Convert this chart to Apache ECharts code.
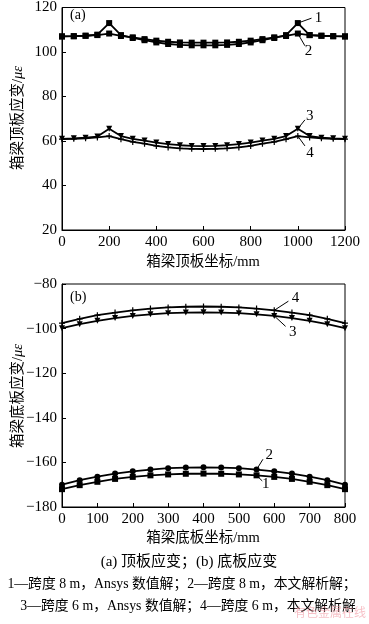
<!DOCTYPE html>
<html><head><meta charset="utf-8">
<script src="https://cdn.jsdelivr.net/npm/echarts@6/dist/echarts.min.js"></script>
<style>html,body{margin:0;padding:0;background:#fff}#c{width:369px;height:624px}</style>
</head><body><div id="c"></div>
<script>
// Panel (a): top plate, x = 0..1200 step 50
const xTop = [0,50,100,150,200,250,300,350,400,450,500,550,600,650,700,750,800,850,900,950,1000,1050,1100,1150,1200];
const top1 = [107,107.1,107.3,107.8,113,107.6,106.3,105.3,104.3,103.6,103.2,103.0,103.0,103.0,103.2,103.6,104.3,105.3,106.3,107.6,113,107.6,107.3,107.1,107];
const top2 = [107,107.1,107.3,107.6,108.3,107.2,106.6,105.8,105.1,104.6,104.3,104.2,104.2,104.2,104.3,104.6,105.1,105.8,106.6,107.2,108.3,107.6,107.3,107.1,107];
const top3 = [61,61.2,61.5,62,65.5,62.2,61,60.2,59.3,58.6,58.1,57.8,57.7,57.8,58.1,58.6,59.3,60.2,61,62.2,65.5,62.2,61.5,61.2,61];
const top4 = [60.8,61,61.2,61.6,62.2,60.8,59.6,58.8,57.8,57.1,56.7,56.5,56.4,56.5,56.7,57.1,57.8,58.8,59.6,60.8,62.2,61.6,61.2,61,60.8];
// Panel (b): bottom plate, x = 0..800 step 50
const xBot = [0,50,100,150,200,250,300,350,400,450,500,550,600,650,700,750,800];
const bot1 = [-172,-170.2,-168.7,-167.4,-166.5,-165.8,-165.4,-165.1,-165,-165.1,-165.4,-165.8,-166.5,-167.4,-168.7,-170.2,-172];
const bot2 = [-170,-168,-166.4,-165,-164,-163.2,-162.6,-162.3,-162.2,-162.3,-162.6,-163.2,-164,-165,-166.4,-168,-170];
const bot3 = [-99.8,-98,-96.5,-95.3,-94.3,-93.6,-93.1,-92.8,-92.7,-92.8,-93.1,-93.6,-94.3,-95.3,-96.5,-98,-99.8];
const bot4 = [-97.5,-95.6,-94,-92.8,-91.8,-91,-90.5,-90.2,-90.1,-90.2,-90.5,-91,-91.8,-92.8,-94,-95.6,-97.5];
// tick settings
const xTopTicks = {min:0,max:1200,interval:200};
const xBotTicks = {min:0,max:800,interval:100};
const yTopTicks = {min:20,max:120,interval:20};
const yBotTicks = {min:-180,max:-80,interval:20};
// annotation labels: [panel, label, fromX, fromY, toX, toY, textX, textY]
const annots = [
  [0,'1',1000,113,1058,115.2,1088,115.3],
  [0,'2',1000,108.3,1030,102.8,1045,100.6],
  [0,'3',1000,65.5,1030,69.5,1050,71.2],
  [0,'4',1000,62.2,1030,57.8,1052,54.4],
  [1,'4',600,-91.8,640,-87.7,660,-86.4],
  [1,'3',600,-94.3,632,-99,652,-101.5],
  [1,'2',550,-163.2,568,-158.6,586,-156.8],
  [1,'1',550,-165.8,566,-168.3,576,-169.5]
];

const serif = 'Liberation Serif, Times New Roman, serif';
const cjk = 'Liberation Serif, Noto Sans CJK SC, serif';
const plusPath = 'path://M4,0H6V4H10V6H6V10H4V6H0V4H4Z';

function mk(data, xs, xi, symbol, size, rot){
  return {type:'line', xAxisIndex:xi, yAxisIndex:xi, data: xs.map((x,i)=>[x,data[i]]),
    symbol, symbolSize:size, symbolRotate:rot||0, showSymbol:true,
    lineStyle:{color:'#000',width:1.8}, itemStyle:{color:'#000'}, animation:false, z:3};
}
const fmt = v => String(v).replace('-', '\u2212');
function ax(t, gi){
  return {type:'value', gridIndex:gi, min:t.min, max:t.max, interval:t.interval,
    axisLine:{show:true,lineStyle:{color:'#000',width:1}}, axisTick:{show:true,inside:true,length:4,lineStyle:{color:'#000'}},
    axisLabel:{color:'#000',fontFamily:serif,fontSize:15,margin:5,formatter:fmt}, splitLine:{show:false}};
}

const chart = echarts.init(document.getElementById('c'), null, {renderer:'canvas'});
const grids = [
  {left:62, top:5, width:283, height:225, show:true, borderColor:'#000', borderWidth:1, backgroundColor:'transparent'},
  {left:62, top:284, width:283, height:223, show:true, borderColor:'#000', borderWidth:1, backgroundColor:'transparent'}
];
const baseGraphic = [
  {type:'text', left:70, top:8, style:{text:'(a)', font:'14px '+serif, fill:'#000'}},
  {type:'text', left:70, top:290, style:{text:'(b)', font:'14px '+serif, fill:'#000'}},
  {type:'text', x:203, y:262, style:{text:'箱梁顶板坐标/mm', font:'14.5px '+cjk, fill:'#000', align:'center', verticalAlign:'middle'}},
  {type:'text', x:203, y:538, style:{text:'箱梁底板坐标/mm', font:'14.5px '+cjk, fill:'#000', align:'center', verticalAlign:'middle'}},
  {type:'text', x:18, y:118, rotation:Math.PI/2, style:{rich:{a:{font:'14.5px '+cjk,fill:'#000'},b:{font:'italic 14.5px '+serif,fill:'#000'}}, text:'{a|箱梁顶板应变/}{b|με}', align:'center', verticalAlign:'middle'}},
  {type:'text', x:18, y:396, rotation:Math.PI/2, style:{rich:{a:{font:'14.5px '+cjk,fill:'#000'},b:{font:'italic 14.5px '+serif,fill:'#000'}}, text:'{a|箱梁底板应变/}{b|με}', align:'center', verticalAlign:'middle'}},
  {type:'text', x:189, y:562, style:{text:'(a) 顶板应变；(b) 底板应变', font:'15px '+cjk, fill:'#000', align:'center', verticalAlign:'middle'}},
  {type:'text', x:182, y:584, style:{text:'1—跨度 8 m，Ansys 数值解；2—跨度 8 m，本文解析解；', font:'13.8px '+cjk, fill:'#000', align:'center', verticalAlign:'middle'}},
  {type:'text', x:188, y:606, style:{text:'3—跨度 6 m，Ansys 数值解；4—跨度 6 m，本文解析解', font:'13.8px '+cjk, fill:'#000', align:'center', verticalAlign:'middle'}},
  {type:'text', x:330, y:612, style:{text:'有色金属在线', font:'12px Noto Sans CJK SC', fill:'rgba(240,150,160,0.6)', align:'center', verticalAlign:'middle'}, z:10}
];
chart.setOption({
  animation:false,
  grid: grids,
  xAxis:[ax(xTopTicks,0), ax(xBotTicks,1)],
  yAxis:[ax(yTopTicks,0), ax(yBotTicks,1)],
  series:[
    mk(top1,xTop,0,'rect',6), mk(top2,xTop,0,'rect',6),
    mk(top3,xTop,0,'triangle',6,180), mk(top4,xTop,0,plusPath,6),
    mk(bot1,xBot,1,'rect',6), mk(bot2,xBot,1,'circle',6),
    mk(bot3,xBot,1,'triangle',6,180), mk(bot4,xBot,1,plusPath,6)
  ],
  graphic: baseGraphic
});
const extra = [];
annots.forEach(a=>{
  const fi = {gridIndex:a[0]};
  const p1 = chart.convertToPixel(fi,[a[2],a[3]]);
  const p2 = chart.convertToPixel(fi,[a[4],a[5]]);
  const pt = chart.convertToPixel(fi,[a[6],a[7]]);
  extra.push({type:'line', shape:{x1:p1[0],y1:p1[1],x2:p2[0],y2:p2[1]}, style:{stroke:'#000',lineWidth:1}, z:5});
  extra.push({type:'text', x:pt[0], y:pt[1], style:{text:a[1], font:'15px '+serif, fill:'#000', align:'center', verticalAlign:'middle'}, z:5});
});
chart.setOption({graphic: baseGraphic.concat(extra)});
</script></body></html>
